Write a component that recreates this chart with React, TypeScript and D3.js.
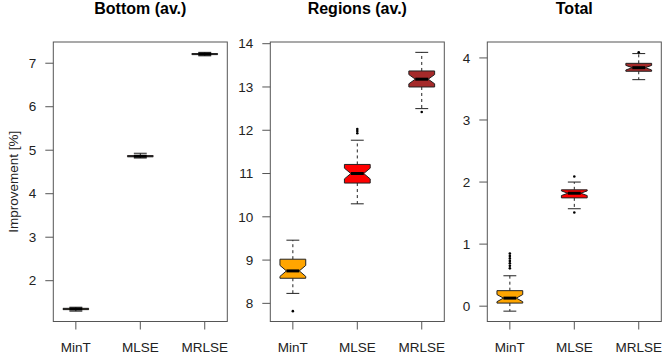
import React from 'react'
import * as d3 from 'd3'

// categories and look
const categories = ['MinT', 'MLSE', 'MRLSE']
const boxColors = ['#FFA500', '#FF0000', '#A52A2A']
const panelTitles = ['Bottom (av.)', 'Regions (av.)', 'Total']
const yTicks = [
  [2, 3, 4, 5, 6, 7],
  [8, 9, 10, 11, 12, 13, 14],
  [0, 1, 2, 3, 4],
]

// box stats, one row per panel, one value per category
const whiskerLow = [
  [1.3, 4.82, 7.17],
  [8.23, 10.3, 12.5],
  [-0.08, 1.57, 3.65],
]
const quart1 = [
  [1.335, 4.848, 7.198],
  [8.58, 10.78, 13.0],
  [0.05, 1.745, 3.785],
]
const medians = [
  [1.35, 4.862, 7.21],
  [8.75, 11.0, 13.18],
  [0.13, 1.82, 3.843],
]
const quart3 = [
  [1.365, 4.875, 7.222],
  [9.02, 11.21, 13.37],
  [0.25, 1.875, 3.913],
]
const whiskerHigh = [
  [1.39, 4.93, 7.25],
  [9.46, 11.77, 13.8],
  [0.49, 2.0, 4.07],
]
const outliers = [
  [[], [], []],
  [[7.82], [11.93, 11.98, 12.03], [12.42]],
  [[0.61, 0.65, 0.69, 0.73, 0.77, 0.81, 0.85], [1.51, 2.09], [4.09]],
]
const sampleSize = 30

const W = 662
const H = 360
const plotTop = 42
const plotBottom = 321.5
const plotW = 174
const firstLeft = 53.3
const panelStep = 217
const font = 'Liberation Sans, Arial, Helvetica, sans-serif'
const frameCol = '#555'
const textCol = '#222'

const Panel = ({ p }: { p: number }) => {
  const left = firstLeft + p * panelStep
  const right = left + plotW

  const all = [
    ...whiskerLow[p], ...whiskerHigh[p], ...outliers[p].flat(),
  ]
  const [lo, hi] = d3.extent(all) as [number, number]
  const pad = (hi - lo) * 0.04

  const x = d3.scaleLinear().domain([0.65, 3.35]).range([left, right])
  const y = d3.scaleLinear().domain([lo - pad, hi + pad]).range([plotBottom, plotTop])
  const bw = x(1.2) - x(0.8)

  return (
    <g>
      <text x={(left + right) / 2} y={13.5} textAnchor="middle" fontWeight="bold"
        fontSize={16} fill="#000">{panelTitles[p]}</text>

      {/* y axis */}
      {yTicks[p].map((t) => (
        <g key={t}>
          <line x1={left - 8} x2={left} y1={y(t)} y2={y(t)} stroke={frameCol} />
          <text x={left - 17} y={y(t)} dy="0.35em" textAnchor="end" fontSize={13.5}
            fill={textCol}>{t}</text>
        </g>
      ))}

      {/* x axis */}
      {categories.map((c, i) => (
        <g key={c}>
          <line x1={x(i + 1)} x2={x(i + 1)} y1={plotBottom} y2={plotBottom + 8} stroke={frameCol} />
          <text x={x(i + 1)} y={351.5} textAnchor="middle" fontSize={13.5} fill={textCol}>{c}</text>
        </g>
      ))}

      {categories.map((c, i) => {
        const cx = x(i + 1)
        const q1 = quart1[p][i], q3 = quart3[p][i], md = medians[p][i]
        const notch = (1.58 * (q3 - q1)) / Math.sqrt(sampleSize)
        const pts: [number, number][] = [
          [cx - bw / 2, y(q1)], [cx + bw / 2, y(q1)], [cx + bw / 2, y(md - notch)],
          [cx + bw / 4, y(md)], [cx + bw / 2, y(md + notch)], [cx + bw / 2, y(q3)],
          [cx - bw / 2, y(q3)], [cx - bw / 2, y(md + notch)], [cx - bw / 4, y(md)],
          [cx - bw / 2, y(md - notch)],
        ]
        return (
          <g key={c}>
            <line x1={cx} x2={cx} y1={y(q3)} y2={y(whiskerHigh[p][i])} stroke="#222"
              strokeDasharray="3,3" />
            <line x1={cx} x2={cx} y1={y(q1)} y2={y(whiskerLow[p][i])} stroke="#222"
              strokeDasharray="3,3" />
            <line x1={cx - bw / 4} x2={cx + bw / 4} y1={y(whiskerHigh[p][i])}
              y2={y(whiskerHigh[p][i])} stroke="#222" />
            <line x1={cx - bw / 4} x2={cx + bw / 4} y1={y(whiskerLow[p][i])}
              y2={y(whiskerLow[p][i])} stroke="#222" />
            <polygon points={pts.map((d) => d.join(',')).join(' ')} fill={boxColors[i]}
              stroke="#222" strokeWidth={1} />
            <line x1={cx - bw / 4} x2={cx + bw / 4} y1={y(md)} y2={y(md)} stroke="#000"
              strokeWidth={3} />
            {outliers[p][i].map((v, k) => (
              <circle key={k} cx={cx} cy={y(v)} r={1.3} fill="#000" />
            ))}
          </g>
        )
      })}

      <rect x={left} y={plotTop} width={plotW} height={plotBottom - plotTop} fill="none"
        stroke={frameCol} />

      {p === 0 && (
        <text transform={`translate(18,${(plotTop + plotBottom) / 2}) rotate(-90)`}
          textAnchor="middle" fontSize={13.5} fill={textCol}>Improvement [%]</text>
      )}
    </g>
  )
}

export default function App() {
  return (
    <svg width={W} height={H} fontFamily={font}
      style={{ position: 'absolute', left: 0, top: 0, background: '#fff' }}>
      <rect width={W} height={H} fill="#fff" />
      {[0, 1, 2].map((p) => <Panel key={p} p={p} />)}
    </svg>
  )
}
